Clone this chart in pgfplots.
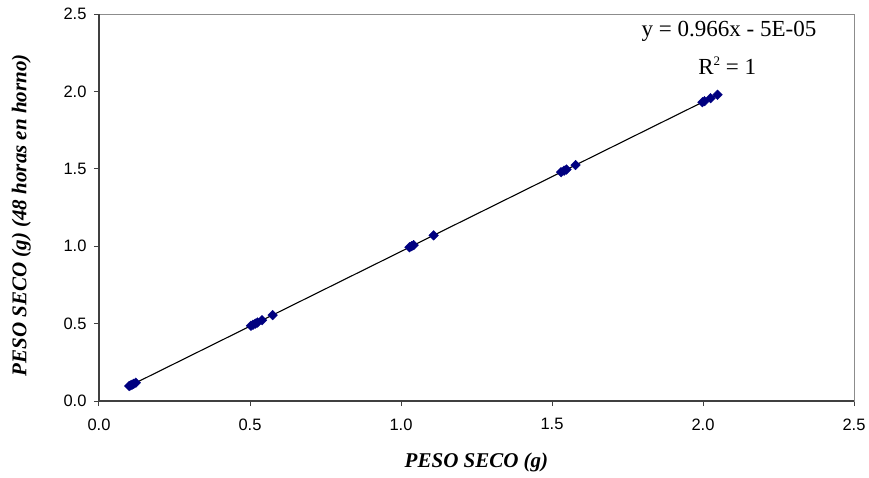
\documentclass[border=0pt]{standalone}
\usepackage{fontspec}
\setmainfont{Liberation Sans}
\newfontfamily\tnr{Liberation Serif}
\usepackage{pgfplots}
\pgfplotsset{compat=1.18}

\definecolor{mknavy}{HTML}{000080}
\definecolor{frame}{HTML}{8C8C8C}
\definecolor{axisdark}{HTML}{404040}

\begin{document}
\begin{tikzpicture}
\begin{axis}[
  scale only axis,
  width=755pt, height=387pt,
  xmin=0, xmax=2.5, ymin=0, ymax=2.5,
  xtick={0,0.5,1,1.5,2,2.5},
  ytick={0,0.5,1,1.5,2,2.5},
  xtick pos=bottom, ytick pos=left,
  tick align=outside,
  major tick length=5pt,
  tick style={axisdark, line width=1pt},
  axis line style={frame, line width=1pt},
  /pgf/number format/assume math mode=true,
  /pgf/number format/.cd, fixed, fixed zerofill, precision=1, /pgfplots/.cd,
  ticklabel style={font=\fontsize{16.5}{18}\selectfont, text=black},
  yticklabel style={xshift=-4pt},
  xticklabel style={yshift=-9pt},
  xlabel={PESO SECO (g)},
  ylabel={PESO SECO (g) (48 horas en horno)},
  xlabel style={font=\tnr\bfseries\itshape\fontsize{21}{24}\selectfont,
    at={(axis description cs:0.5,-0.16)}, anchor=center},
  ylabel style={font=\tnr\bfseries\itshape\fontsize{21}{24}\selectfont,
    at={(axis description cs:-0.103,0.48)}, anchor=center},
  clip=false,
]
% measured pairs
\addplot[only marks, mark=square*, mark size=3.4pt,
  mark options={fill=mknavy, draw=mknavy, rotate=45}] coordinates {
  (0.100,0.097) (0.105,0.101) (0.110,0.106) (0.115,0.111) (0.122,0.118)
  (0.503,0.486) (0.510,0.493) (0.518,0.500) (0.525,0.507) (0.540,0.522) (0.575,0.555)
  (1.028,0.993) (1.035,1.000) (1.042,1.007) (1.108,1.070)
  (1.530,1.478) (1.540,1.488) (1.548,1.495) (1.578,1.524)
  (1.998,1.930) (2.005,1.937) (2.025,1.956) (2.048,1.978)
};
% linear fit y = 0.966x - 5E-05 over the data range
\addplot[black, line width=1.1pt] coordinates {(0.100,0.09655) (2.048,1.97832)};
% darker left and bottom axis lines
\draw[axisdark, line width=1.2pt] (rel axis cs:0,1) -- (rel axis cs:0,0) -- (rel axis cs:1,0);
\node[font=\tnr\fontsize{23}{26}\selectfont, anchor=center] at (axis cs:2.086,2.39) {y = 0.966x - 5E-05};
\node[font=\tnr\fontsize{23}{26}\selectfont, anchor=center] at (axis cs:2.08,2.165) {R\raisebox{0.85ex}{\fontsize{13}{15}\selectfont 2} = 1};
\end{axis}
\pgfresetboundingbox
\useasboundingbox ([xshift=-99pt,yshift=-76pt]current axis.south west) rectangle ([xshift=15pt,yshift=14pt]current axis.north east);
\end{tikzpicture}
\end{document}
